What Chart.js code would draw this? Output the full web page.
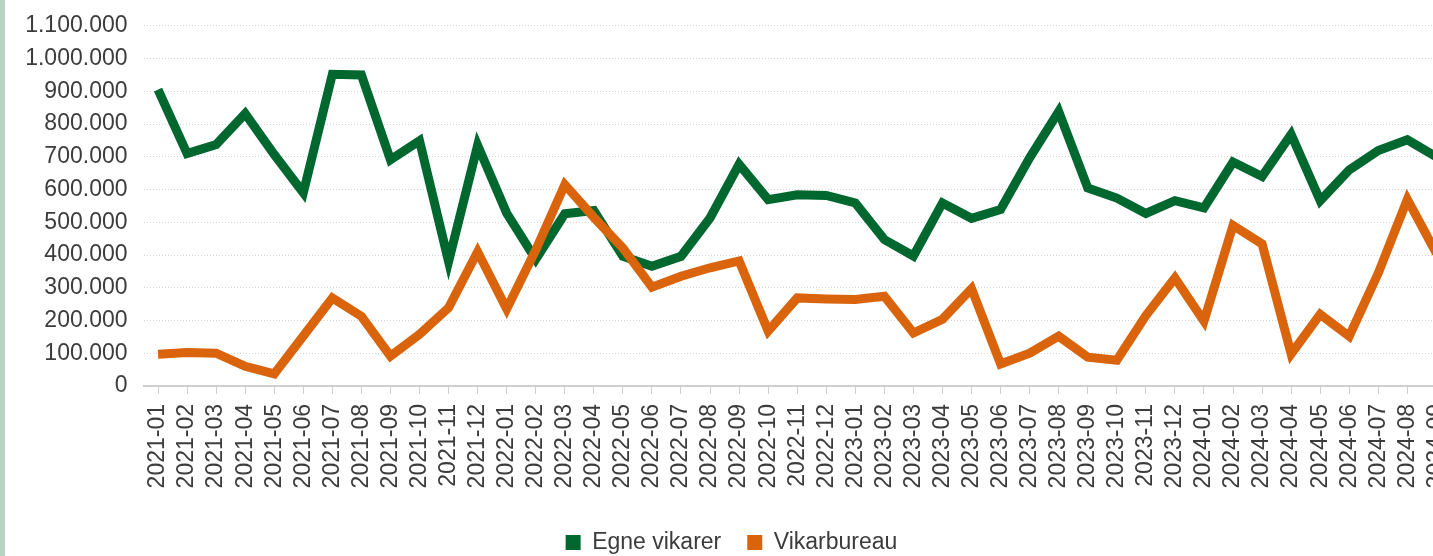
<!DOCTYPE html>
<html>
<head>
<meta charset="utf-8">
<script src="https://cdn.jsdelivr.net/npm/chart.js@4/dist/chart.umd.min.js"></script>
<style>
  html, body { margin: 0; padding: 0; width: 1433px; height: 556px; overflow: hidden; background: #fff; }
  #strip { position: absolute; left: 0; top: 0; width: 5px; height: 556px; background: #b8d5c2; z-index: 2; }
  #wrap { position: absolute; left: -11px; top: -4px; width: 1485px; height: 568px; }
</style>
</head>
<body>
<div id="strip"></div>
<div id="wrap"><canvas id="chart"></canvas></div>
<script>
const months = ['2021-01','2021-02','2021-03','2021-04','2021-05','2021-06','2021-07','2021-08','2021-09','2021-10','2021-11','2021-12',
                '2022-01','2022-02','2022-03','2022-04','2022-05','2022-06','2022-07','2022-08','2022-09','2022-10','2022-11','2022-12',
                '2023-01','2023-02','2023-03','2023-04','2023-05','2023-06','2023-07','2023-08','2023-09','2023-10','2023-11','2023-12',
                '2024-01','2024-02','2024-03','2024-04','2024-05','2024-06','2024-07','2024-08','2024-09'];

const egneVikarer = [905000, 710000, 737000, 832000, 707000, 590000, 952000, 950000, 691000, 749000, 380000, 735000,
                     528000, 387000, 526000, 536000, 396000, 366000, 396000, 513000, 677000, 569000, 584000, 582000,
                     559000, 447000, 397000, 559000, 512000, 539000, 697000, 838000, 605000, 574000, 527000, 566000,
                     544000, 684000, 640000, 768000, 566000, 660000, 719000, 752000, 700000];

const vikarbureau = [97000, 102000, 100000, 60000, 37000, 153000, 269000, 213000, 91000, 158000, 239000, 410000,
                     235000, 415000, 615000, 515000, 421000, 302000, 335000, 361000, 382000, 168000, 269000, 266000,
                     264000, 274000, 162000, 204000, 297000, 67000, 100000, 152000, 88000, 79000, 215000, 330000,
                     198000, 490000, 434000, 98000, 219000, 152000, 345000, 570000, 405000];

const textColor = '#3c3c3c';
const green = '#00672f';
const orange = '#d9640c';
const fontFamily = '"Liberation Sans", Arial, sans-serif';

function danish(v) {
  return String(v).replace(/\B(?=(\d{3})+(?!\d))/g, '.');
}

new Chart(document.getElementById('chart'), {
  type: 'line',
  data: {
    labels: months,
    datasets: [
      {
        label: 'Egne vikarer',
        data: egneVikarer,
        borderColor: green,
        backgroundColor: green,
        borderWidth: 9,
        pointRadius: 0,
        tension: 0,
        order: 1
      },
      {
        label: 'Vikarbureau',
        data: vikarbureau,
        borderColor: orange,
        backgroundColor: orange,
        borderWidth: 9,
        pointRadius: 0,
        tension: 0,
        order: 0   // orange drawn on top of green
      }
    ]
  },
  options: {
    responsive: true,
    maintainAspectRatio: false,
    animation: false,
    layout: { padding: { top: 5, right: 0, left: 0, bottom: 0 } },
    scales: {
      x: {
        offset: true,
        grid: { drawOnChartArea: false, drawTicks: true, tickLength: 8, color: '#cfcfcf', offset: false },
        border: { display: true, color: '#cfcfcf', width: 2 },
        ticks: {
          autoSkip: false,
          minRotation: 90,
          maxRotation: 90,
          padding: 10,
          color: textColor,
          font: { family: fontFamily, size: 23 }
        },
        afterFit(scale) { scale.height = 119; }
      },
      y: {
        min: 0,
        max: 1100000,
        grid: { color: '#d4d4d4', lineWidth: 1, drawTicks: false, tickLength: 0 },
        border: { display: false, dash: [1, 2] },
        ticks: {
          stepSize: 100000,
          padding: 16,
          color: textColor,
          font: { family: fontFamily, size: 23 },
          callback: (v) => danish(v)
        },
        afterFit(scale) { scale.width = 154.5; }
      }
    },
    plugins: {
      tooltip: { enabled: false },
      legend: {
        position: 'bottom',
        labels: {
          boxWidth: 15,
          boxHeight: 15,
          padding: 26,
          color: textColor,
          font: { family: fontFamily, size: 23 },
          generateLabels: (chart) =>
            Chart.defaults.plugins.legend.labels.generateLabels(chart).map(l => ({ ...l, lineWidth: 0 })),
          sort: (a, b) => a.datasetIndex - b.datasetIndex
        }
      }
    }
  }
});
</script>
</body>
</html>
